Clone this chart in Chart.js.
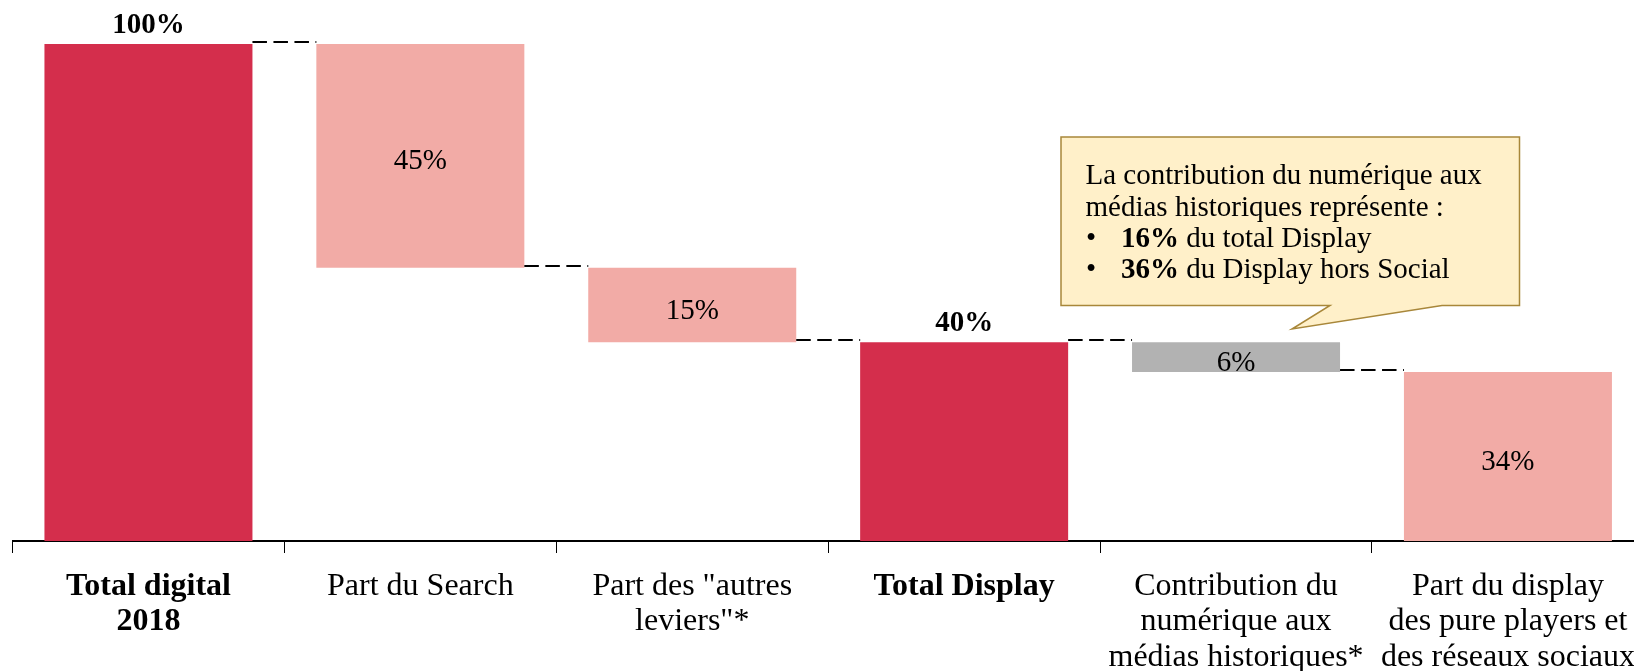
<!DOCTYPE html>
<html>
<head>
<meta charset="utf-8">
<script src="https://cdn.jsdelivr.net/npm/chart.js@4"></script>
<style>
  html, body { margin: 0; padding: 0; overflow: hidden; background: #fff; }
  #wrap { position: relative; width: 1651px; height: 671px; }
</style>
</head>
<body>
<div id="wrap"><canvas id="waterfall" width="1651" height="671"></canvas></div>
<script>
//categories of the waterfall (multi line labels as arrays)
const categories = [
  ['Total digital', '2018'],
  'Part du Search',
  ['Part des "autres', 'leviers"*'],
  'Total Display',
  ['Contribution du', 'numérique aux', 'médias historiques*'],
  ['Part du display', 'des pure players et', 'des réseaux sociaux']
];
//floating bars: bottom and top of each bar, in % of total digital
const barStarts = [0, 55, 40, 0, 34, 0];
const barEnds = [100, 100, 55, 40, 40, 34];
const valueLabels = ['100%', '45%', '15%', '40%', '6%', '34%'];
//total / part / media (media = contribution to historic media)
const barKinds = ['total', 'part', 'part', 'total', 'media', 'part'];

//callout text
const calloutIntro = ['La contribution du numérique aux', 'médias historiques représente :'];
const calloutBullets = [['16%', ' du total Display'], ['36%', ' du Display hors Social']];

const kindColor = { total: '#D42E4C', part: '#F2ABA6', media: '#B2B2B2' };
const serif = "'Liberation Serif', 'Times New Roman', serif";

//dashed connectors, value labels and the callout box
const waterfallExtras = {
  id: 'waterfallExtras',
  afterDatasetsDraw(chart) {
    const ctx = chart.ctx;
    const meta = chart.getDatasetMeta(0);
    const yScale = chart.scales.y;
    ctx.save();

    ctx.strokeStyle = '#000';
    ctx.lineWidth = 2;
    ctx.setLineDash([14.5, 6.5]);
    for (let i = 0; i < meta.data.length - 1; i++) {
      const a = meta.data[i];
      const b = meta.data[i + 1];
      const ly = Math.round(yScale.getPixelForValue(barEnds[i + 1])) - 2;
      ctx.beginPath();
      ctx.moveTo(a.x + a.width / 2, ly);
      ctx.lineTo(b.x - b.width / 2, ly);
      ctx.stroke();
    }
    ctx.setLineDash([]);

    ctx.fillStyle = '#000';
    ctx.textAlign = 'center';
    meta.data.forEach((bar, i) => {
      const top = yScale.getPixelForValue(barEnds[i]);
      const bottom = yScale.getPixelForValue(barStarts[i]);
      if (barKinds[i] === 'total') {
        ctx.font = 'bold 29px ' + serif;
        ctx.textBaseline = 'alphabetic';
        ctx.fillText(valueLabels[i], bar.x, top - 11);
      } else {
        ctx.font = '29px ' + serif;
        ctx.textBaseline = 'middle';
        ctx.fillText(valueLabels[i], bar.x, (top + bottom) / 2 + 6);
      }
    });
    ctx.restore();
  },
  afterDraw(chart) {
    const ctx = chart.ctx;
    ctx.save();
    //speech bubble
    ctx.beginPath();
    ctx.moveTo(1061, 137);
    ctx.lineTo(1519.5, 137);
    ctx.lineTo(1519.5, 305.5);
    ctx.lineTo(1442, 305.5);
    ctx.lineTo(1292, 329);
    ctx.lineTo(1330, 305.5);
    ctx.lineTo(1061, 305.5);
    ctx.closePath();
    ctx.fillStyle = '#FFF0C9';
    ctx.fill();
    ctx.strokeStyle = '#A8873A';
    ctx.lineWidth = 1.5;
    ctx.stroke();

    ctx.fillStyle = '#000';
    ctx.textAlign = 'left';
    ctx.textBaseline = 'alphabetic';
    let ly = 184;
    ctx.font = '29px ' + serif;
    calloutIntro.forEach(t => {
      ctx.fillText(t, 1085.5, ly);
      ly += 31.5;
    });
    calloutBullets.forEach(([boldPart, rest]) => {
      ctx.font = '29px ' + serif;
      ctx.fillText('•', 1086, ly);
      ctx.font = 'bold 29px ' + serif;
      ctx.fillText(boldPart, 1121, ly);
      const w = ctx.measureText(boldPart).width;
      ctx.font = '29px ' + serif;
      ctx.fillText(rest, 1121 + w, ly);
      ly += 30.5;
    });
    ctx.restore();
  }
};

const ctx1 = document.getElementById('waterfall');
const waterfallChart = new Chart(ctx1, {
  type: 'bar',
  data: {
    labels: categories,
    datasets: [{
      data: barStarts.map((s, i) => [s, barEnds[i]]),
      backgroundColor: barKinds.map(k => kindColor[k]),
      borderWidth: 0,
      barPercentage: 0.765,
      categoryPercentage: 1
    }]
  },
  options: {
    responsive: false,
    animation: false,
    devicePixelRatio: 1,
    layout: { padding: { left: 12.5, right: 0, top: 0, bottom: 0 } },
    plugins: {
      legend: { display: false },
      tooltip: { enabled: false }
    },
    scales: {
      x: {
        afterFit: (scale) => { scale.height = 130; },
        grid: {
          display: true,
          drawOnChartArea: false,
          drawTicks: true,
          tickLength: 12,
          color: '#000',
          lineWidth: 1,
          offset: true
        },
        border: { display: true, color: '#000', width: 2 },
        ticks: {
          color: '#000',
          padding: 16,
          maxRotation: 0,
          autoSkip: false,
          font: (c) => ({
            family: serif,
            size: 32,
            lineHeight: 1.106,
            weight: barKinds[c.index] === 'total' ? 'bold' : 'normal'
          })
        }
      },
      y: {
        display: false,
        min: 0,
        max: 108.85
      }
    }
  },
  plugins: [waterfallExtras]
});
</script>
</body>
</html>
